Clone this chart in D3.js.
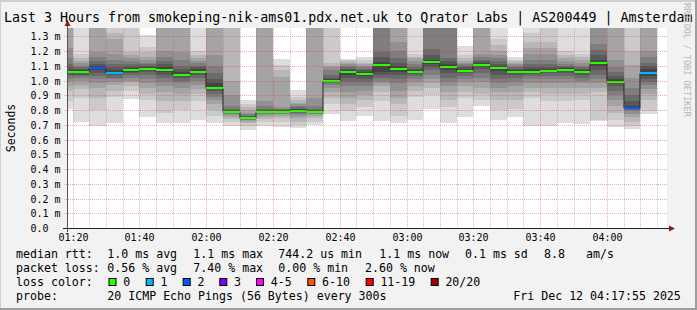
<!DOCTYPE html>
<html><head><meta charset="utf-8">
<script src="https://cdn.jsdelivr.net/npm/d3@7/dist/d3.min.js"></script>
<style>
body{margin:0;background:#f2f2f2}
svg{display:block}
text{font-family:"DejaVu Sans Mono",monospace;white-space:pre}
</style>
</head><body>
<svg id="chart" width="697" height="310"></svg>
<script>
// ---------------- DATA ----------------
const titleText = "Last 3 Hours from smokeping-nik-ams01.pdx.net.uk to Qrator Labs | AS200449 | Amsterdam";
const yAxisTitle = "Seconds";
const watermark = "RRDTOOL / TOBI OETIKER";
const dayStr = "2025-12-12";
const rangeStart = "01:18:18";
const rangeEnd = "04:18:00";
// end time of each 5-minute step (each bar covers the 5 minutes before it)
const barEnds = ["01:20","01:25","01:30","01:35","01:40","01:45","01:50","01:55","02:00","02:05","02:10","02:15",
  "02:20","02:25","02:30","02:35","02:40","02:45","02:50","02:55","03:00","03:05","03:10","03:15",
  "03:20","03:25","03:30","03:35","03:40","03:45","03:50","03:55","04:00","04:05","04:10","04:15"];
// median rtt in ms
const medians = [1.058,1.058,1.087,1.053,1.071,1.080,1.071,1.040,1.058,0.951,0.786,0.746,
  0.786,0.784,0.795,0.786,0.999,1.060,1.046,1.107,1.080,1.060,1.125,1.094,
  1.067,1.107,1.087,1.060,1.060,1.067,1.073,1.060,1.121,0.992,0.816,1.053];
// lost pings (of 20) per step
const lossCounts = [0,0,2,1,0,0,0,0,0,0,0,0, 0,0,0,0,0,0,0,0,0,0,0,0, 0,0,0,0,0,0,0,0,0,0,2,1];
// the 20 sorted ping rtts (ms) of each step
const pings = [
 [0.81,0.86,0.93,0.96,0.99,1.01,1.03,1.04,1.05,1.055,1.062,1.07,1.09,1.11,1.15,1.22,1.40,1.45,1.50,1.50],
 [0.72,0.88,0.94,0.97,1.00,1.02,1.03,1.04,1.05,1.055,1.062,1.07,1.08,1.09,1.10,1.12,1.13,1.15,1.18,1.40],
 [0.69,0.80,0.88,0.95,0.98,1.01,1.03,1.05,1.07,1.083,1.09,1.10,1.11,1.13,1.16,1.19,1.40,1.45,1.50,1.50],
 [0.71,0.89,0.93,0.97,0.99,1.01,1.02,1.035,1.045,1.05,1.056,1.07,1.09,1.11,1.14,1.18,1.28,1.32,1.40,1.45],
 [0.875,0.93,0.96,0.99,1.00,1.02,1.04,1.05,1.06,1.068,1.075,1.085,1.095,1.11,1.13,1.15,1.17,1.19,1.40,1.45],
 [0.755,0.87,0.91,0.95,0.98,1.01,1.04,1.06,1.07,1.078,1.085,1.09,1.10,1.11,1.12,1.14,1.16,1.19,1.23,1.31],
 [0.714,0.78,0.86,0.92,0.96,0.99,1.02,1.04,1.06,1.068,1.075,1.09,1.11,1.13,1.16,1.20,1.40,1.45,1.50,1.50],
 [0.71,0.80,0.86,0.91,0.95,0.98,1.00,1.02,1.03,1.037,1.045,1.06,1.08,1.10,1.14,1.19,1.40,1.45,1.50,1.50],
 [0.735,0.86,0.91,0.94,0.97,1.00,1.02,1.04,1.05,1.055,1.062,1.075,1.09,1.10,1.12,1.13,1.15,1.17,1.20,1.45],
 [0.71,0.76,0.80,0.84,0.87,0.89,0.91,0.93,0.94,0.948,0.955,0.98,1.01,1.05,1.10,1.17,1.40,1.45,1.50,1.50],
 [0.69,0.72,0.74,0.755,0.765,0.772,0.778,0.782,0.785,0.787,0.79,0.795,0.80,0.81,0.83,0.90,1.00,1.40,1.45,1.50],
 [0.665,0.69,0.71,0.72,0.73,0.735,0.74,0.742,0.744,0.745,0.748,0.752,0.756,0.76,0.77,0.78,0.80,0.82,0.84,0.868],
 [0.69,0.72,0.74,0.755,0.765,0.772,0.778,0.782,0.785,0.787,0.79,0.795,0.80,0.81,0.83,0.86,1.40,1.45,1.50,1.50],
 [0.687,0.72,0.745,0.76,0.77,0.775,0.78,0.782,0.784,0.786,0.79,0.795,0.80,0.805,0.81,0.82,1.026,1.07,1.105,1.143],
 [0.68,0.70,0.72,0.745,0.76,0.775,0.783,0.79,0.794,0.796,0.80,0.805,0.81,0.82,0.83,0.84,0.85,0.87,0.89,0.936],
 [0.70,0.72,0.745,0.76,0.77,0.775,0.78,0.783,0.785,0.787,0.79,0.795,0.80,0.81,0.83,0.88,1.40,1.45,1.50,1.50],
 [0.773,0.84,0.88,0.92,0.95,0.97,0.98,0.99,0.995,0.998,1.00,1.01,1.02,1.04,1.07,1.09,1.10,1.116,1.40,1.45],
 [0.728,0.79,0.84,0.88,0.92,0.96,0.99,1.02,1.04,1.058,1.063,1.07,1.08,1.09,1.10,1.11,1.12,1.13,1.14,1.144],
 [0.76,0.82,0.87,0.90,0.93,0.96,0.99,1.01,1.03,1.044,1.05,1.06,1.07,1.08,1.09,1.10,1.11,1.12,1.14,1.157],
 [0.728,0.86,0.92,0.96,0.98,1.00,1.02,1.04,1.06,1.10,1.113,1.123,1.157,1.19,1.40,1.45,1.50,1.50,1.50,1.50],
 [0.71,0.76,0.84,0.88,0.93,0.98,1.01,1.04,1.06,1.077,1.085,1.10,1.12,1.15,1.20,1.26,1.40,1.45,1.50,1.50],
 [0.73,0.89,0.93,0.96,0.99,1.01,1.03,1.045,1.055,1.058,1.063,1.07,1.08,1.09,1.11,1.13,1.15,1.16,1.18,1.45],
 [0.81,0.90,0.95,0.98,1.01,1.04,1.07,1.09,1.11,1.123,1.13,1.14,1.17,1.213,1.40,1.45,1.50,1.50,1.50,1.50],
 [0.715,0.82,0.87,0.92,0.96,0.99,1.02,1.05,1.07,1.092,1.10,1.11,1.13,1.15,1.40,1.45,1.50,1.50,1.50,1.50],
 [0.755,0.88,0.92,0.96,0.99,1.01,1.03,1.05,1.06,1.065,1.07,1.08,1.09,1.10,1.11,1.12,1.13,1.15,1.17,1.236],
 [0.827,0.87,0.91,0.95,0.99,1.02,1.05,1.08,1.095,1.105,1.11,1.12,1.13,1.14,1.16,1.18,1.40,1.45,1.50,1.50],
 [0.73,0.80,0.87,0.92,0.95,0.98,1.01,1.04,1.065,1.085,1.09,1.10,1.11,1.13,1.15,1.17,1.20,1.24,1.28,1.45],
 [0.75,0.81,0.87,0.92,0.96,0.99,1.02,1.04,1.05,1.058,1.063,1.07,1.08,1.09,1.10,1.11,1.12,1.13,1.14,1.16],
 [0.69,0.88,0.92,0.95,0.98,1.01,1.03,1.045,1.055,1.058,1.063,1.075,1.09,1.11,1.14,1.18,1.22,1.26,1.32,1.45],
 [0.69,0.86,0.91,0.95,0.98,1.01,1.03,1.05,1.06,1.065,1.07,1.08,1.09,1.11,1.14,1.18,1.22,1.26,1.40,1.45],
 [0.71,0.86,0.91,0.95,0.98,1.01,1.03,1.05,1.065,1.07,1.078,1.085,1.09,1.10,1.11,1.13,1.15,1.17,1.20,1.45],
 [0.705,0.87,0.91,0.95,0.98,1.00,1.02,1.04,1.05,1.057,1.063,1.07,1.08,1.09,1.10,1.12,1.14,1.16,1.18,1.45],
 [0.728,0.735,0.92,0.95,0.98,1.01,1.04,1.07,1.10,1.118,1.125,1.14,1.17,1.21,1.25,1.40,1.45,1.50,1.50,1.50],
 [0.687,0.73,0.78,0.83,0.87,0.90,0.93,0.96,0.98,0.99,0.995,1.01,1.03,1.06,1.09,1.14,1.40,1.45,1.50,1.50],
 [0.67,0.69,0.72,0.75,0.77,0.79,0.80,0.805,0.81,0.815,0.818,0.83,0.86,0.90,0.95,1.02,1.103,1.20,1.40,1.45],
 [0.773,0.79,0.87,0.91,0.94,0.97,0.99,1.01,1.03,1.05,1.056,1.08,1.10,1.12,1.16,1.20,1.40,1.45,1.50,1.50]
];
const yTickValues = [0.0,0.1,0.2,0.3,0.4,0.5,0.6,0.7,0.8,0.9,1.0,1.1,1.2,1.3];
const yTickLabels = ["0.0","0.1 m","0.2 m","0.3 m","0.4 m","0.5 m","0.6 m","0.7 m","0.8 m","0.9 m","1.0 m","1.1 m","1.2 m","1.3 m"];
const yMax = 1.356;
const xTickLabels = ["01:20","01:40","02:00","02:20","02:40","03:00","03:20","03:40","04:00"];
const lossLabels = ["0","1","2","3","4-5","6-10","11-19","20/20"];
const lossUpper = [0,1,2,3,5,10,19,20];
const lossColors = ["#26ff00","#00b8ff","#0059ff","#7e00ff","#ff00ff","#ff5500","#ff0000","#a10000"];
const legendRtt = ["median rtt:","1.0 ms avg","1.1 ms max","744.2 us min","1.1 ms now","0.1 ms sd","8.8","am/s"];
const legendLoss = ["packet loss:","0.56 % avg","7.40 % max","0.00 % min","2.60 % now"];
const legendColorTitle = "loss color:";
const legendProbe = ["probe:","20 ICMP Echo Pings (56 Bytes) every 300s","Fri Dec 12 04:17:55 2025"];

// ---------------- DRAW ----------------
const W = 697, H = 310;
const PL = 67, PT = 28, PW = 600, PH = 200;
const svg = d3.select("#chart");
const parseT = d3.timeParse("%Y-%m-%d %H:%M:%S");
const parseM = d3.timeParse("%Y-%m-%d %H:%M");
const x = d3.scaleTime().domain([parseT(dayStr+" "+rangeStart), parseT(dayStr+" "+rangeEnd)]).range([PL, PL+PW]);
const y = d3.scaleLinear().domain([0, yMax]).range([PT+PH, PT]);

// background + 3D border
svg.append("rect").attr("width",W).attr("height",H).attr("fill","#f2f2f2");
svg.append("path").attr("d",`M0,${H-1}V1H${W-1}`).attr("fill","none").attr("stroke","#cfcfcf").attr("stroke-width",2);
svg.append("path").attr("d",`M1,${H}V${H-1}H${W-1}V0`).attr("fill","none").attr("stroke","#9e9e9e").attr("stroke-width",2);

// canvas
svg.append("rect").attr("x",PL).attr("y",PT).attr("width",PW).attr("height",PH).attr("fill","#fff");
svg.append("clipPath").attr("id","plotclip").append("rect").attr("x",PL).attr("y",PT).attr("width",PW).attr("height",PH);
const plot = svg.append("g").attr("clip-path","url(#plotclip)");

const bars = barEnds.map((e,i)=>{
  const end = parseM(dayStr+" "+e);
  const start = new Date(end.getTime() - 5*60*1000);
  return {start,end,median:medians[i],loss:lossCounts[i],p:pings[i]};
});

// smoke: 10 nested bands, outer lightest
const half = 10;
const bandColor = k => { const g = Math.floor(190/half*(half-k))+50; return `rgb(${g},${g},${g})`; };
bars.forEach(b=>{
  const x0 = Math.round(x(b.start)), x1 = Math.round(x(b.end));
  for (let k=1;k<=half;k++){
    const lo = b.p[k-1], hi = b.p[20-k];
    const yt = Math.round(y(hi)), yb = Math.round(y(lo));
    plot.append("rect").attr("x",x0).attr("y",yt).attr("width",x1-x0).attr("height",Math.max(0,yb-yt))
      .attr("fill",bandColor(k)).attr("shape-rendering","crispEdges");
  }
});

// median step line
const stepLine = d3.line().x(d=>d[0]).y(d=>d[1]);
const stepPts = [];
bars.forEach(b=>{
  const ym = Math.round(y(b.median))+0.5;
  stepPts.push([Math.round(x(b.start)),ym]); stepPts.push([Math.round(x(b.end)),ym]);
});
plot.append("path").attr("d",stepLine(stepPts)).attr("fill","none").attr("stroke","#202020").attr("stroke-width",1);

// loss-coloured median marks
const lossIdx = n => lossUpper.findIndex(u=>n<=u);
bars.forEach(b=>{
  const x0 = Math.round(x(b.start)), x1 = Math.round(x(b.end));
  const ym = Math.round(y(b.median));
  plot.append("rect").attr("x",x0).attr("y",ym-1).attr("width",x1-x0).attr("height",2)
    .attr("fill",lossColors[lossIdx(b.loss)]).attr("shape-rendering","crispEdges");
});

// grid (on top, like rrdtool)
const grid = svg.append("g");
x.ticks(d3.timeMinute.every(5)).forEach(t=>{
  const major = t.getMinutes()%20===0;
  const xp = Math.round(x(t))+0.5;
  grid.append("line").attr("x1",xp).attr("x2",xp).attr("y1",PT).attr("y2",PT+PH+(major?2:1))
    .attr("stroke", major ? "rgba(225,40,40,0.38)" : "rgba(120,120,120,0.4)")
    .attr("stroke-dasharray","1,1");
});
yTickValues.forEach(v=>{
  if (v===0) return;
  const yp = Math.round(y(v))+0.5;
  grid.append("line").attr("x1",PL-3).attr("x2",PL+PW).attr("y1",yp).attr("y2",yp)
    .attr("stroke","rgba(225,40,40,0.38)").attr("stroke-dasharray","1,1");
});

// axes
svg.append("line").attr("x1",PL-4).attr("x2",PL+PW+6).attr("y1",PT+PH+0.5).attr("y2",PT+PH+0.5).attr("stroke","#222");
svg.append("line").attr("x1",PL+0.5).attr("x2",PL+0.5).attr("y1",PT+PH+4).attr("y2",PT-4).attr("stroke","#555");
svg.append("path").attr("d",`M${PL+PW+2},${PT+PH-2.5}L${PL+PW+8},${PT+PH+0.5}L${PL+PW+2},${PT+PH+3.5}Z`).attr("fill","#8b1a1a");
svg.append("path").attr("d",`M${PL-2.5},${PT-2}L${PL+0.5},${PT-8}L${PL+3.5},${PT-2}Z`).attr("fill","#8b1a1a");

// y tick labels
yTickValues.forEach((v,i)=>{
  svg.append("text").attr("x",30.5).attr("y",Math.round(y(v))+4).attr("font-size","10px").attr("fill","#000").text(yTickLabels[i]);
});
// x tick labels
const fmt = d3.timeFormat("%H:%M");
x.ticks(d3.timeMinute.every(20)).forEach(t=>{
  const lbl = fmt(t);
  if (!xTickLabels.includes(lbl)) return;
  svg.append("text").attr("x",Math.round(x(t))+0.5).attr("y",241).attr("text-anchor","middle").attr("font-size","10px").text(lbl);
});

// title
svg.append("text").attr("x",4).attr("y",22).attr("font-size","13.3px").text(titleText);
// y axis title
svg.append("text").attr("transform","translate(15,128) rotate(-90)").attr("text-anchor","middle").attr("font-size","11.5px").text(yAxisTitle);
// watermark
svg.append("text").attr("transform","translate(684,3) rotate(90)").attr("font-size","8.6px").attr("fill","#b8b8b8").text(watermark);

// legend
const LF = "11.6px";
const rttX = [16,107.3,193.3,278.3,379.3,465,544,586];
legendRtt.forEach((s,i)=>svg.append("text").attr("x",rttX[i]).attr("y",258).attr("font-size",LF).text(s));
const lossX = [16,107.3,193.3,278.3,365];
legendLoss.forEach((s,i)=>svg.append("text").attr("x",lossX[i]).attr("y",272).attr("font-size",LF).text(s));
svg.append("text").attr("x",16).attr("y",286).attr("font-size",LF).text(legendColorTitle);
const boxX = [108.5,145.7,182.7,219.3,256,307.3,365.7,430.7];
lossLabels.forEach((s,i)=>{
  svg.append("rect").attr("x",boxX[i]+0.5).attr("y",278.5).attr("width",7).attr("height",7)
    .attr("fill",lossColors[i]).attr("stroke","#000").attr("stroke-width",1);
  svg.append("text").attr("x",boxX[i]+14.7).attr("y",286).attr("font-size",LF).text(s);
});
const probeX = [16,107.3,513.3];
legendProbe.forEach((s,i)=>svg.append("text").attr("x",probeX[i]).attr("y",300).attr("font-size",LF).text(s));
</script>
</body></html>
